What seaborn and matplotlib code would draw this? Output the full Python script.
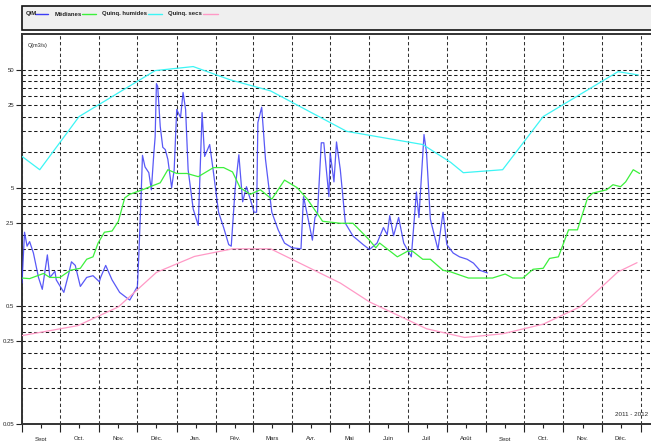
import numpy as np
import pandas as pd
import matplotlib
matplotlib.use("Agg")
import matplotlib.pyplot as plt
import matplotlib.dates as mdates
from matplotlib.ticker import FixedLocator, FixedFormatter, NullFormatter, NullLocator
from matplotlib.lines import Line2D
from matplotlib.patches import Rectangle
import seaborn as sns

START = "2011-09-01"

# Q/M (daily flows) - day offset from START, value in m3/s
qm_days = [0, 2, 4, 6, 9, 13, 16, 20, 22, 26, 27, 33, 37, 39, 42, 46, 51, 56, 61, 62,
           66, 71, 77, 83, 85, 91, 92, 94, 95, 97, 100, 102, 104, 105, 106, 107, 109, 111,
           113, 115, 118, 120, 122, 125, 127, 129, 131, 135, 139, 142, 144, 148, 151, 155,
           159, 163, 165, 168, 171, 174, 177, 180, 183, 185, 186, 189, 192, 197, 202, 207,
           213, 220, 222, 226, 229, 231, 233, 236, 238, 242, 243, 246, 248, 251, 255, 261,
           269, 274, 280, 285, 288, 290, 293, 297, 301, 307, 311, 313, 317, 319, 322, 328,
           332, 335, 340, 345, 351, 356, 361, 367]
qm_vals = [0.78, 2.1, 1.6, 1.75, 1.4, 0.87, 0.69, 1.35, 0.87, 0.98, 0.83, 0.65, 0.95, 1.18,
           1.1, 0.73, 0.87, 0.9, 0.8, 0.87, 1.1, 0.83, 0.65, 0.58, 0.56, 0.73, 1.24, 4.5,
           9.4, 7.5, 6.7, 4.8, 9.9, 13.5, 38, 36, 16.5, 11, 10.5, 8.7, 5, 7.1, 23, 19.6, 32,
           23, 7.1, 3.3, 2.4, 21.6, 9.2, 11.6, 6.7, 3.1, 2.3, 1.65, 1.6, 4.8, 9.5, 3.8, 5.1,
           4.0, 3.1, 3.1, 17.8, 24, 8.7, 3.1, 2.2, 1.7, 1.55, 1.52, 4.2, 2.6, 1.8, 2.8, 3.0,
           12, 12, 4.2, 9.9, 5.6, 12.2, 7.1, 2.5, 1.95, 1.65, 1.5, 1.7, 2.3, 2.0, 2.9, 1.96,
           2.8, 1.7, 1.3, 4.6, 2.8, 14.1, 9.9, 2.7, 1.5, 3.1, 1.65, 1.4, 1.3, 1.24, 1.15,
           1.0, 0.95]

# Médianes
med_days = [0, 6, 17, 22, 30, 38, 46, 51, 56, 60, 65, 71, 76, 81, 85, 95, 101, 109, 115,
            122, 130, 139, 151, 159, 166, 172, 180, 188, 197, 207, 217, 225, 235, 237, 251,
            261, 274, 279, 282, 296, 304, 308, 316, 322, 332, 338, 352, 371, 381, 387, 395,
            403, 411, 416, 423, 431, 438, 446, 450, 461, 466, 472, 476, 482, 487]
med_vals = [0.86, 0.85, 0.94, 0.87, 0.87, 1.0, 1.04, 1.24, 1.3, 1.7, 2.1, 2.15, 2.6, 4.1,
            4.4, 4.8, 5.1, 5.5, 7.1, 6.6, 6.6, 6.2, 7.4, 7.4, 6.8, 5.0, 4.4, 4.8, 4.0, 5.8,
            5.0, 4.0, 2.8, 2.6, 2.5, 2.5, 1.8, 1.55, 1.7, 1.3, 1.45, 1.45, 1.24, 1.24, 1.0,
            0.97, 0.86, 0.86, 0.93, 0.86, 0.86, 1.02, 1.04, 1.26, 1.3, 2.2, 2.2, 4.1, 4.5,
            4.8, 5.3, 5.1, 5.6, 7.1, 6.6]

# Quinquennale humide
hum_days = [0, 14, 45, 105, 135, 164, 196, 256, 316, 338, 348, 379, 411, 470, 486]
hum_vals = [9.2, 7.1, 20, 49, 53, 41, 33, 15, 11.6, 8.2, 6.7, 7.1, 20, 48, 45]

# Quinquennale sèche
sec_days = [0, 44, 76, 106, 136, 166, 196, 251, 274, 319, 349, 379, 411, 440, 470, 485]
sec_vals = [0.28, 0.34, 0.49, 0.96, 1.31, 1.52, 1.52, 0.78, 0.54, 0.32, 0.27, 0.29, 0.35,
            0.49, 0.97, 1.16]

series_names = ["Q/M", "Médianes", "Quinq. humides", "Quinq. secs"]
series_colors = ["#3c3cf5", "#3cf03c", "#3cf5f5", "#ff99c6"]
month_labels = ["Sept", "Oct.", "Nov.", "Déc.", "Jan.", "Fév.", "Mars", "Avr.", "Mai",
                "Juin", "Juil", "Août", "Sept", "Oct.", "Nov.", "Déc."]
ytick_values = [0.05, 0.25, 0.5, 2.5, 5, 25, 50]
ytick_labels = ["0.05", "0.25", "0.5", "2.5", "5", "25", "50"]

start = pd.Timestamp(START)
frames = []
for name, d, v in zip(series_names, [qm_days, med_days, hum_days, sec_days],
                      [qm_vals, med_vals, hum_vals, sec_vals]):
    frames.append(pd.DataFrame({"date": start + pd.to_timedelta(d, unit="D"),
                                "Q": v, "serie": name}))
df = pd.concat(frames, ignore_index=True)

sns.set_style("white")
plt.rcParams["font.family"] = ["Liberation Sans", "DejaVu Sans"]

W, H = 651, 441
fig = plt.figure(figsize=(W / 100, H / 100), dpi=100)
ax = fig.add_axes([22 / W, (H - 424) / H, (W - 22) / W, (424 - 34) / H])

palette = dict(zip(series_names, series_colors))
sns.lineplot(data=df, x="date", y="Q", hue="serie", hue_order=series_names,
             palette=palette, estimator=None, sort=False, lw=0.9, legend=False,
             ax=ax, zorder=3)
ax.lines[0].set_alpha(0.85)

ax.set_yscale("log")
ax.set_ylim(0.05, 100)
ax.set_xlim(start, start + pd.Timedelta(days=496))
ax.set_xlabel("")
ax.set_ylabel("")

dash = (0, (3.2, 2.4))
for e in (0.1, 1, 10):
    for m in (1, 1.5, 2, 2.5, 3, 3.5, 4, 4.5, 5):
        ax.axhline(m * e, color="#1a1a1a", lw=0.75, ls=dash, zorder=1)

ax.xaxis.set_major_locator(mdates.MonthLocator())
ax.xaxis.set_major_formatter(NullFormatter())
mid = pd.date_range(START, periods=16, freq="MS") + pd.Timedelta(days=15)
ax.xaxis.set_minor_locator(FixedLocator(mdates.date2num(mid)))
ax.xaxis.set_minor_formatter(FixedFormatter(month_labels))
ax.grid(axis="x", which="major", color="#333333", lw=0.75, ls=dash, zorder=1)
ax.tick_params(axis="x", which="major", length=6, width=0.8, color="#222222",
               direction="out", bottom=True)
ax.tick_params(axis="x", which="minor", length=3, width=0.8, color="#222222",
               direction="out", labelsize=4.3, pad=6, bottom=True)

ax.yaxis.set_major_locator(FixedLocator(ytick_values))
ax.yaxis.set_major_formatter(FixedFormatter(ytick_labels))
ax.yaxis.set_minor_locator(NullLocator())
ax.tick_params(axis="y", which="major", length=4.5, width=0.8, color="#222222",
               direction="out", labelsize=4.3, pad=1, left=True)

for s in ("left", "bottom", "top"):
    ax.spines[s].set_color("#333333")
    ax.spines[s].set_linewidth(1.4)
ax.spines["right"].set_visible(False)

fig.text(28 / W, 1 - 45 / H, "Q(m3/s)", fontsize=4, va="center", ha="left")
fig.text(648 / W, 1 - 414 / H, "2011 - 2012", fontsize=4.5, va="center", ha="right")

# legend box
rect = Rectangle((22 / W, 1 - 30 / H), 1.0, 24 / H, transform=fig.transFigure,
                 facecolor="#efefef", edgecolor="#111111", lw=1.2, zorder=0)
fig.patches.append(rect)
text_x = [26, 55, 102, 168]
line_x = [(35, 48), (82, 96), (148, 162), (203, 218)]
ly = 1 - 14 / H
for name, col, tx, (x0, x1) in zip(series_names, series_colors, text_x, line_x):
    fig.text(tx / W, ly, name, fontsize=4.3, va="center", ha="left", weight="bold",
             color="#222222")
    fig.lines.append(Line2D([x0 / W, x1 / W], [ly, ly], transform=fig.transFigure,
                            color=col, lw=1.0))

fig.savefig("out.png", dpi=100)
